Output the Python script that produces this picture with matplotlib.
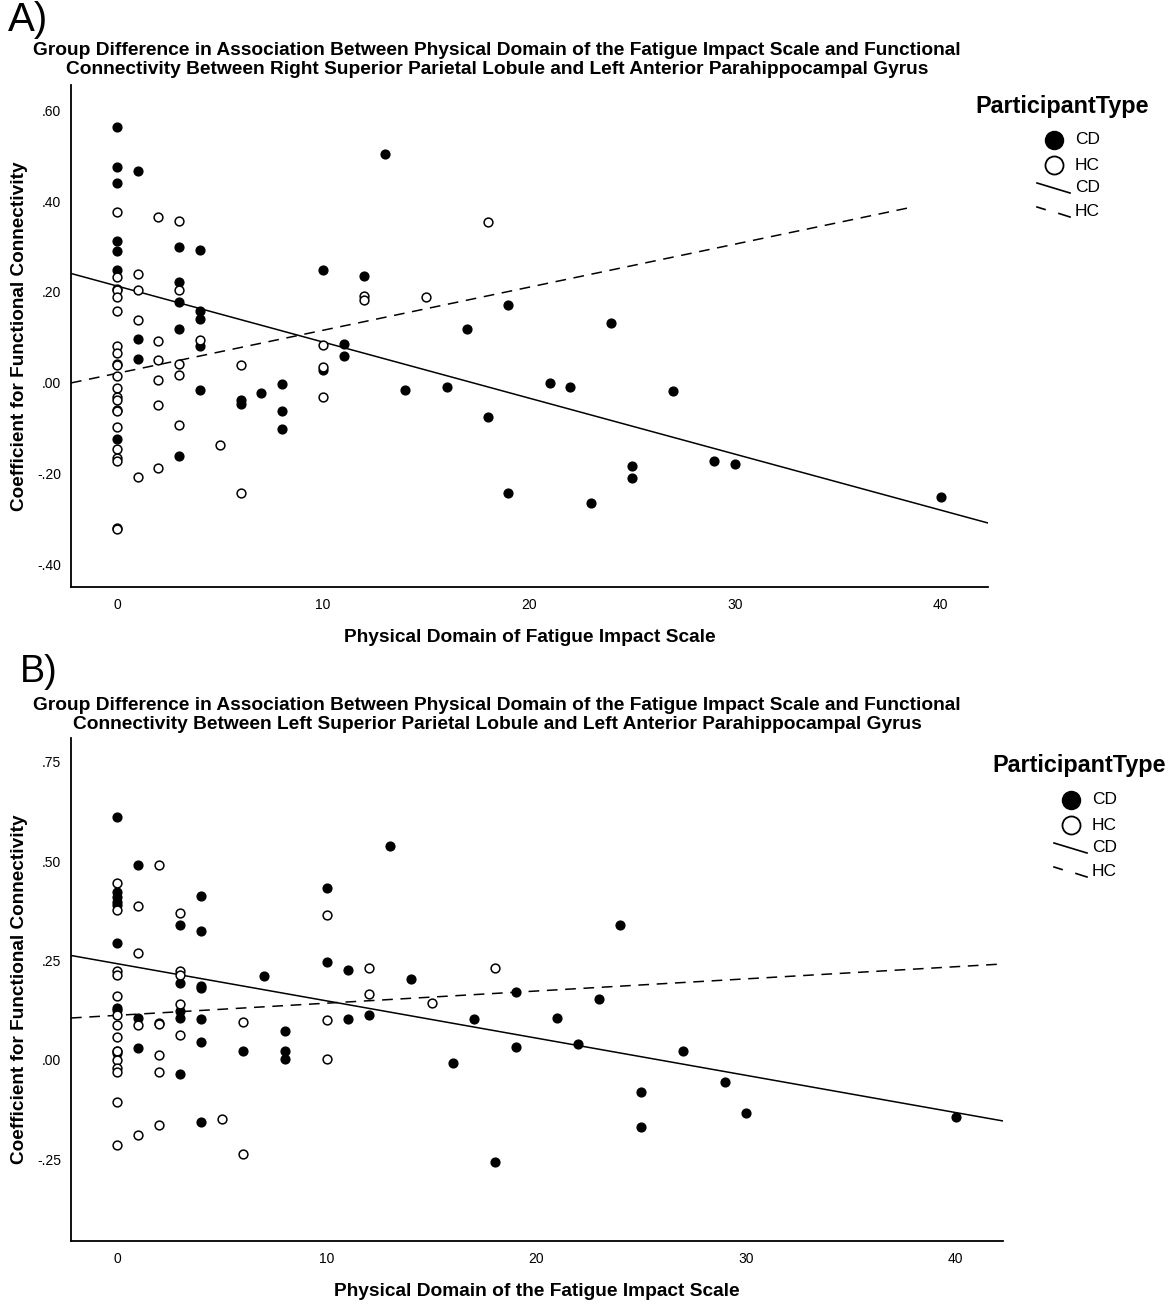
import matplotlib
matplotlib.use("Agg")
import matplotlib.pyplot as plt
from matplotlib.lines import Line2D
import numpy as np

NARROW = ['Liberation Sans Narrow', 'Liberation Sans', 'DejaVu Sans']
WIDE = ['Liberation Sans', 'DejaVu Sans']

# ---------------- Panel A data ----------------
cd_x_a = [0, 0, 0, 0, 0, 0, 0,
          1, 1, 1,
          3, 3, 3, 3, 3,
          4, 4, 4, 4, 4,
          6, 6, 7, 8, 8, 8, 10, 10, 11, 11, 12, 13, 14,
          16, 17, 18, 19, 19, 21, 22, 23, 24, 25, 25, 27, 29, 30, 40]
cd_y_a = [0.563, 0.475, 0.440, 0.312, 0.291, 0.249, -0.125,
          0.467, 0.097, 0.052,
          0.300, 0.221, 0.179, 0.119, -0.162,
          0.292, 0.158, 0.141, 0.081, -0.015,
          -0.038, -0.046, -0.022, -0.003, -0.063, -0.101, 0.249, 0.029, 0.086, 0.059, 0.236, 0.505, -0.015,
          -0.009, 0.118, -0.075, 0.171, -0.242, -0.001, -0.010, -0.264, 0.131, -0.184, -0.210, -0.018, -0.172, -0.179, -0.251]

hc_x_a = [0] * 22 + [1, 1, 1, 1,
                     2, 2, 2, 2, 2, 2,
                     3, 3, 3, 3, 3,
                     4, 5, 6, 6, 10, 10, 10, 12, 12, 15, 18]
hc_y_a = [0.376, 0.234, 0.207, 0.205, 0.188, 0.159, 0.080, 0.066, 0.042, 0.040, 0.014,
          -0.012, -0.031, -0.039, -0.061, -0.063, -0.097, -0.145, -0.165, -0.172, -0.321, -0.323,
          0.240, 0.204, 0.139, -0.207,
          0.366, 0.092, 0.051, 0.005, -0.049, -0.188,
          0.357, 0.205, 0.042, 0.017, -0.093,
          0.095, -0.138, 0.040, -0.242, 0.083, 0.034, -0.031, 0.192, 0.182, 0.190, 0.355]

# fit lines: intercept, slope, x range
cd_fit_a = (0.213, -0.01234)
hc_fit_a = (0.0209, 0.00948)
cd_range_a = (-2.25, 42.3)
hc_range_a = (-2.25, 38.5)

# ---------------- Panel B data ----------------
cd_x_b = [0] * 10 + [1, 1, 1,
                     3, 3, 3, 3, 3,
                     4, 4, 4, 4, 4, 4, 4,
                     6, 7, 8, 8, 8, 10, 10, 11, 11, 12, 13, 14,
                     16, 17, 18, 19, 19, 21, 22, 23, 24, 25, 25, 27, 29, 30, 40]
cd_y_b = [0.610, 0.423, 0.411, 0.398, 0.390, 0.294, 0.130, 0.126, 0.021, 0.018,
          0.491, 0.105, 0.029,
          0.339, 0.194, 0.122, 0.105, -0.035,
          0.412, 0.323, 0.186, 0.182, 0.102, 0.045, -0.157,
          0.023, 0.211, 0.072, 0.021, 0.003, 0.432, 0.247, 0.226, 0.102, 0.114, 0.539, 0.203,
          -0.009, 0.104, -0.258, 0.171, 0.033, 0.105, 0.039, 0.154, 0.339, -0.082, -0.168, 0.023, -0.055, -0.133, -0.144]

hc_x_b = [0] * 14 + [1, 1, 1, 1,
                     2, 2, 2, 2, 2, 2,
                     3, 3, 3, 3, 3,
                     5, 6, 6, 10, 10, 10, 12, 12, 15, 18]
hc_y_b = [0.446, 0.377, 0.224, 0.213, 0.161, 0.112, 0.088, 0.057, 0.021, 0.0, -0.021, -0.031, -0.107, -0.214,
          0.386, 0.269, 0.087, -0.189,
          0.491, 0.093, 0.091, 0.013, -0.031, -0.164,
          0.369, 0.224, 0.213, 0.141, 0.063,
          -0.149, 0.096, -0.237, 0.365, 0.100, 0.003, 0.230, 0.166, 0.143, 0.231]

cd_fit_b = (0.242, -0.00937)
hc_fit_b = (0.112, 0.00306)
cd_range_b = (-2.2, 42.25)
hc_range_b = (-2.2, 42.25)

x_ticks = [0, 10, 20, 30, 40]
x_ticklabels = ["0", "10", "20", "30", "40"]
y_ticks_a = [0.6, 0.4, 0.2, 0.0, -0.2, -0.4]
y_ticklabels_a = [".60", ".40", ".20", ".00", "-.20", "-.40"]
y_ticks_b = [0.75, 0.5, 0.25, 0.0, -0.25]
y_ticklabels_b = [".75", ".50", ".25", ".00", "-.25"]

title_a = ("Group Difference in Association Between Physical Domain of the Fatigue Impact Scale and Functional\n"
           "Connectivity Between Right Superior Parietal Lobule and Left Anterior Parahippocampal Gyrus")
title_b = ("Group Difference in Association Between Physical Domain of the Fatigue Impact Scale and Functional\n"
           "Connectivity Between Left Superior Parietal Lobule and Left Anterior Parahippocampal Gyrus")
xlabel_a = "Physical Domain of Fatigue Impact Scale"
xlabel_b = "Physical Domain of the Fatigue Impact Scale"
ylabel = "Coefficient for Functional Connectivity"
legend_title = "ParticipantType"
groups = ["CD", "HC"]

W, H = 1169, 1307
fig = plt.figure(figsize=(W / 100, H / 100), dpi=100)


def px_axes(l, t, r, b):
    return fig.add_axes([l / W, 1 - b / H, (r - l) / W, (b - t) / H])


def draw_panel(ax, cdx, cdy, hcx, hcy, cdfit, hcfit, cdr, hcr, xlim, ylim, yt, ytl, xlabel):
    ax.scatter(cdx, cdy, s=40, facecolor='black', edgecolor='black', linewidths=1.0, zorder=3)
    ax.scatter(hcx, hcy, s=40, facecolor='white', edgecolor='black', linewidths=1.1, zorder=3)
    xs = np.array(cdr)
    ax.plot(xs, cdfit[0] + cdfit[1] * xs, color='black', lw=1.1, zorder=2)
    xs = np.array(hcr)
    ax.plot(xs, hcfit[0] + hcfit[1] * xs, color='black', lw=1.1, ls=(0, (7, 5)), zorder=2)
    ax.set_xlim(*xlim)
    ax.set_ylim(*ylim)
    ax.set_xticks(x_ticks)
    ax.set_xticklabels(x_ticklabels, fontsize=10, family=NARROW)
    ax.set_yticks(yt)
    ax.set_yticklabels(ytl, fontsize=10, family=NARROW)
    ax.tick_params(length=0)
    ax.tick_params(axis='x', pad=8)
    ax.tick_params(axis='y', pad=7)
    for s in ['top', 'right']:
        ax.spines[s].set_visible(False)
    for s in ['left', 'bottom']:
        ax.spines[s].set_linewidth(1.3)
    ax.set_xlabel(xlabel, fontsize=13.8, fontweight='bold', family=NARROW, labelpad=12)
    ax.set_ylabel(ylabel, fontsize=13.7, fontweight='bold', family=WIDE, labelpad=7)


def draw_legend(x0, y0):
    # x0: left of title, y0: title centre (pixels)
    fig.text(x0 / W, 1 - y0 / H, legend_title, fontsize=16.8, fontweight='bold',
             family=WIDE, ha='left', va='center')
    mx = x0 + 79
    tx = x0 + 100
    ys = [y0 + 34, y0 + 59, y0 + 82, y0 + 106]
    tr = fig.transFigure
    fig.add_artist(Line2D([mx / W], [1 - ys[0] / H], marker='o', ms=13, mfc='black', mec='black',
                          transform=tr))
    fig.add_artist(Line2D([mx / W], [1 - ys[1] / H], marker='o', ms=13, mfc='white', mec='black',
                          mew=1.3, transform=tr))
    fig.add_artist(Line2D([(mx - 17) / W, (mx + 16) / W], [1 - (ys[2] - 5) / H, 1 - (ys[2] + 5) / H],
                          color='black', lw=1.2, transform=tr))
    fig.add_artist(Line2D([(mx - 17) / W, (mx - 9) / W], [1 - (ys[3] - 5) / H, 1 - (ys[3] - 2.5) / H],
                          color='black', lw=1.2, transform=tr))
    fig.add_artist(Line2D([(mx + 5) / W, (mx + 16) / W], [1 - (ys[3] + 1.5) / H, 1 - (ys[3] + 5) / H],
                          color='black', lw=1.2, transform=tr))
    labels = groups + groups
    for yy, lab in zip(ys, labels):
        fig.text(tx / W, 1 - yy / H, lab, fontsize=12.5, family=WIDE, ha='left', va='center')


# Panel A
axA = px_axes(71, 85, 988, 587)
draw_panel(axA, cd_x_a, cd_y_a, hc_x_a, hc_y_a, cd_fit_a, hc_fit_a, cd_range_a, hc_range_a,
           (-2.25, 42.3), (-0.45, 0.656), y_ticks_a, y_ticklabels_a, xlabel_a)
fig.text(8 / W, 1 - 20 / H, "A)", fontsize=29, family=NARROW, ha='left', va='center')
fig.text(497 / W, 1 - 60 / H, title_a, fontsize=13.8, fontweight='bold', family=NARROW,
         ha='center', va='center', linespacing=1.2)
draw_legend(975, 106)

# Panel B
axB = px_axes(71, 738, 1003, 1241)
draw_panel(axB, cd_x_b, cd_y_b, hc_x_b, hc_y_b, cd_fit_b, hc_fit_b, cd_range_b, hc_range_b,
           (-2.2, 42.25), (-0.456, 0.81), y_ticks_b, y_ticklabels_b, xlabel_b)
fig.text(20 / W, 1 - 672 / H, "B)", fontsize=27, family=NARROW, ha='left', va='center')
fig.text(497 / W, 1 - 715 / H, title_b, fontsize=13.8, fontweight='bold', family=NARROW,
         ha='center', va='center', linespacing=1.12)
draw_legend(992, 766)

fig.savefig("out.png", dpi=100, facecolor='white')
